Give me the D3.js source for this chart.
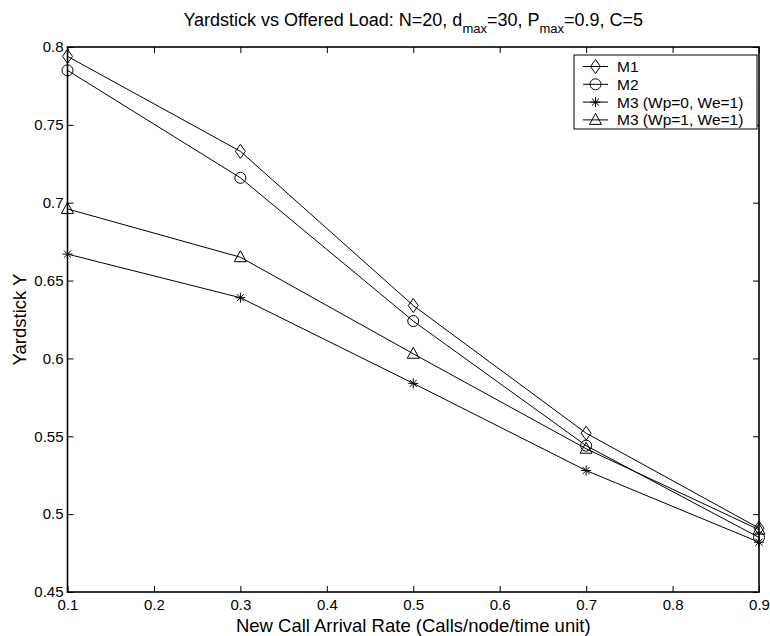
<!DOCTYPE html>
<html>
<head>
<meta charset="utf-8">
<script src="https://cdn.jsdelivr.net/npm/d3@7"></script>
<style>
  html, body { margin: 0; padding: 0; background: #fff; }
  svg text { font-family: "Liberation Sans", Arial, Helvetica, sans-serif; fill: #000; }
</style>
</head>
<body>
<svg id="chart" width="770" height="636"></svg>
<script>
// Offered load (new call arrival rate) on the x axis
const rates = [0.1, 0.3, 0.5, 0.7, 0.9];

// Yardstick Y for each scheme
const m1 = [0.794, 0.733, 0.634, 0.552, 0.491];
const m2 = [0.785, 0.716, 0.624, 0.544, 0.485];
const m3a = [0.667, 0.639, 0.584, 0.528, 0.482];   // Wp=0, We=1
const m3b = [0.696, 0.665, 0.603, 0.542, 0.490];   // Wp=1, We=1

const seriesNames = ["M1", "M2", "M3 (Wp=0, We=1)", "M3 (Wp=1, We=1)"];
const seriesMarkers = ["diamond", "circle", "star", "triangle"];
const seriesValues = [m1, m2, m3a, m3b];

const xTicks = [0.1, 0.2, 0.3, 0.4, 0.5, 0.6, 0.7, 0.8, 0.9];
const yTicks = [0.45, 0.5, 0.55, 0.6, 0.65, 0.7, 0.75, 0.8];

const plot = { left: 67.5, right: 759, top: 47, bottom: 592 };

const svg = d3.select("#chart");

const x = d3.scaleLinear().domain([0.1, 0.9]).range([plot.left, plot.right]);
const y = d3.scaleLinear().domain([0.45, 0.8]).range([plot.bottom, plot.top]);

const fmt = d => String(+d.toFixed(2));
const tickLen = 6;
const tickFont = 15;

// Axes: ticks point inward, mirrored on top and right
const gx = svg.append("g").attr("transform", `translate(0,${plot.bottom})`)
  .call(d3.axisBottom(x).tickValues(xTicks).tickFormat(fmt).tickSizeInner(-tickLen).tickSizeOuter(0).tickPadding(7));
const gxTop = svg.append("g").attr("transform", `translate(0,${plot.top})`)
  .call(d3.axisTop(x).tickValues(xTicks).tickFormat("").tickSizeInner(-tickLen).tickSizeOuter(0));
const gy = svg.append("g").attr("transform", `translate(${plot.left},0)`)
  .call(d3.axisLeft(y).tickValues(yTicks).tickFormat(fmt).tickSizeInner(-tickLen).tickSizeOuter(0).tickPadding(4));
const gyRight = svg.append("g").attr("transform", `translate(${plot.right},0)`)
  .call(d3.axisRight(y).tickValues(yTicks).tickFormat("").tickSizeInner(-tickLen).tickSizeOuter(0));

[gx, gxTop, gy, gyRight].forEach(g => {
  g.select(".domain").remove();
  g.selectAll(".tick line").attr("stroke", "#000").attr("stroke-width", 1);
  g.selectAll(".tick text").attr("font-size", tickFont).attr("font-family", "Liberation Sans, Arial, sans-serif");
});

// Plot box
svg.append("rect")
  .attr("x", plot.left).attr("y", plot.top)
  .attr("width", plot.right - plot.left).attr("height", plot.bottom - plot.top)
  .attr("fill", "none").attr("stroke", "#000").attr("stroke-width", 1.6);

// Marker shapes
function markerPath(kind) {
  switch (kind) {
    case "diamond": return "M0,-7L5,0L0,7L-5,0Z";
    case "circle": return d3.arc()({ innerRadius: 0, outerRadius: 5.5, startAngle: 0, endAngle: 2 * Math.PI });
    case "triangle": return "M0,-6.5L6,4.5L-6,4.5Z";
    case "star": {
      const r = 5, d = r * Math.SQRT1_2;
      return `M${-r},0L${r},0M0,${-r}L0,${r}M${-d},${-d}L${d},${d}M${-d},${d}L${d},${-d}`;
    }
  }
}

const line = d3.line().x((d, i) => x(rates[i])).y(d => y(d));

seriesValues.forEach((vals, s) => {
  const g = svg.append("g");
  g.append("path").datum(vals).attr("d", line)
    .attr("fill", "none").attr("stroke", "#000").attr("stroke-width", 1);
  g.selectAll("path.mk").data(vals).join("path").attr("class", "mk")
    .attr("transform", (d, i) => `translate(${x(rates[i])},${y(d)})`)
    .attr("d", markerPath(seriesMarkers[s]))
    .attr("fill", "none").attr("stroke", "#000").attr("stroke-width", 1);
});

// Legend
const leg = { x: 574, y: 55, w: 183, h: 74, row: 17.8, first: 11.5 };
const lg = svg.append("g");
lg.append("rect").attr("x", leg.x).attr("y", leg.y).attr("width", leg.w).attr("height", leg.h)
  .attr("fill", "#fff").attr("stroke", "#000").attr("stroke-width", 1);
seriesNames.forEach((name, i) => {
  const cy = leg.y + leg.first + i * leg.row;
  lg.append("line").attr("x1", leg.x + 9).attr("x2", leg.x + 34).attr("y1", cy).attr("y2", cy)
    .attr("stroke", "#000").attr("stroke-width", 1);
  lg.append("path").attr("transform", `translate(${leg.x + 21.5},${cy})`)
    .attr("d", markerPath(seriesMarkers[i]))
    .attr("fill", "none").attr("stroke", "#000").attr("stroke-width", 1);
  lg.append("text").attr("x", leg.x + 43).attr("y", cy + 5.5).attr("font-size", 15.5).text(name);
});

// Title with subscripts
const title = svg.append("text").attr("x", (plot.left + plot.right) / 2).attr("y", 26)
  .attr("text-anchor", "middle").attr("font-size", 18);
title.append("tspan").text("Yardstick vs Offered Load: N=20, d");
title.append("tspan").attr("dy", 7).attr("font-size", 13).text("max");
title.append("tspan").attr("dy", -7).text("=30, P");
title.append("tspan").attr("dy", 7).attr("font-size", 13).text("max");
title.append("tspan").attr("dy", -7).text("=0.9, C=5");

// Axis titles
svg.append("text").attr("x", (plot.left + plot.right) / 2).attr("y", 632)
  .attr("text-anchor", "middle").attr("font-size", 18.5)
  .text("New Call Arrival Rate (Calls/node/time unit)");
svg.append("text").attr("transform", `translate(26,${(plot.top + plot.bottom) / 2}) rotate(-90)`)
  .attr("text-anchor", "middle").attr("font-size", 18.5)
  .text("Yardstick Y");
</script>
</body>
</html>
